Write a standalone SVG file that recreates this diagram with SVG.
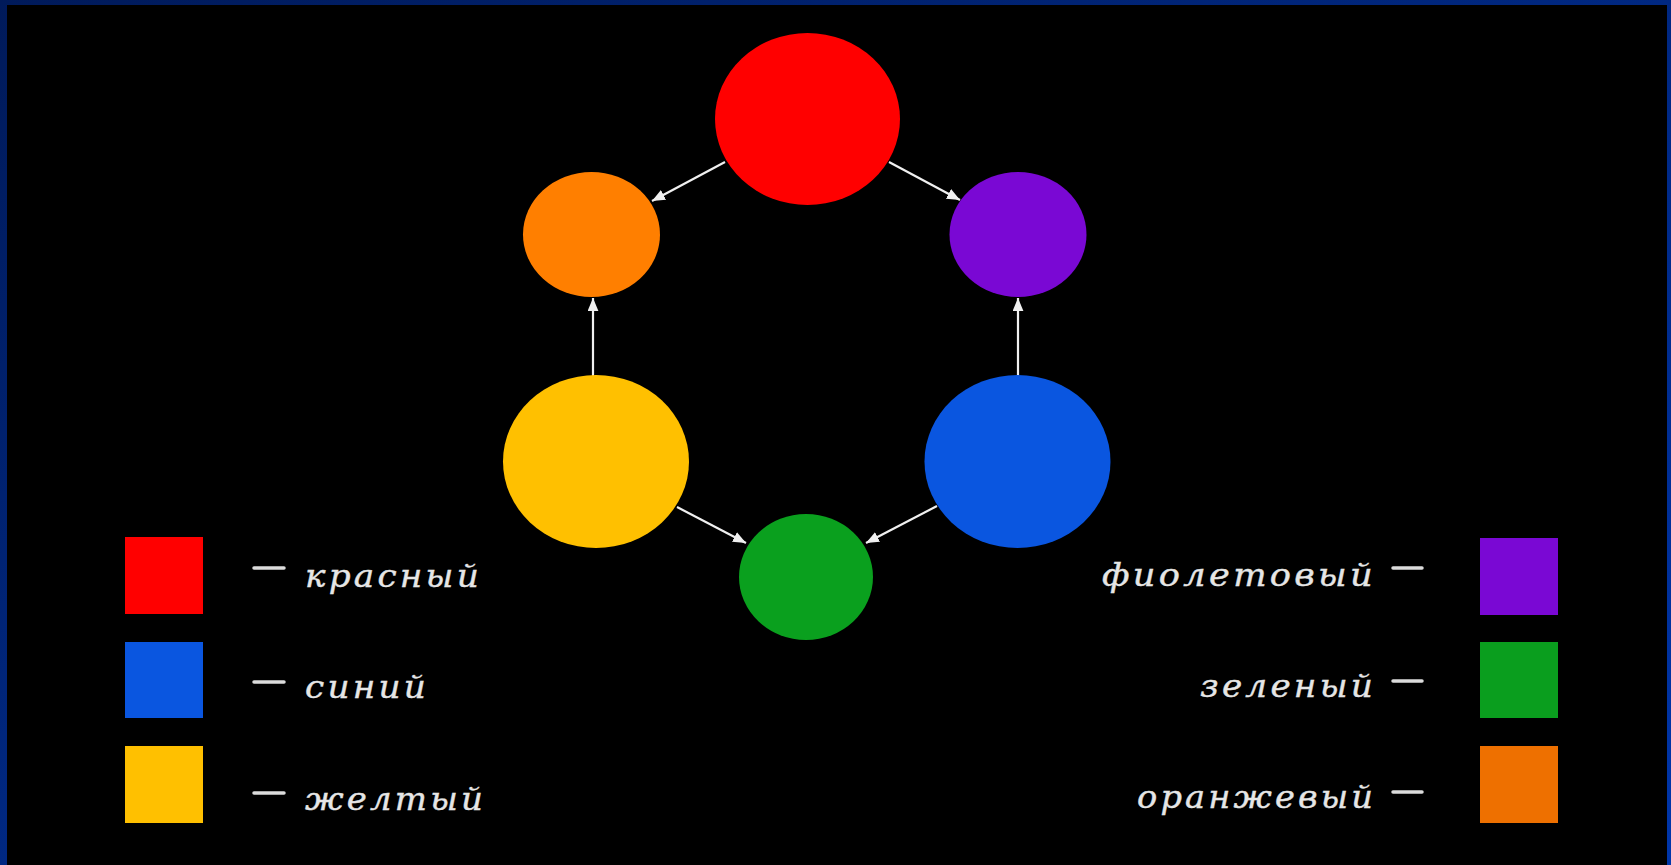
<svg xmlns="http://www.w3.org/2000/svg" width="1671" height="865" viewBox="0 0 1671 865">
  <defs>
    <linearGradient id="frame" x1="0" y1="0" x2="1" y2="1">
      <stop offset="0" stop-color="#001a5a"/>
      <stop offset="1" stop-color="#0036aa"/>
    </linearGradient>
    <marker id="ah" viewBox="0 0 12 10" refX="12" refY="5" markerWidth="13" markerHeight="11" markerUnits="userSpaceOnUse" orient="auto">
      <path d="M0,0 L12,5 L0,10 z" fill="#f0f0f0"/>
    </marker>
    <style>
      .lbl { font-family: "DejaVu Serif", "Liberation Serif", serif; font-style: italic; font-size: 32px; letter-spacing: 3px; fill: #e6e6e6; stroke: #e6e6e6; stroke-width: 0.4; }
      .dash { stroke: #dcdcdc; stroke-width: 3.5; stroke-linecap: round; }
      .conn { stroke: #f0f0f0; stroke-width: 2.2; fill: none; marker-end: url(#ah); }
    </style>
  </defs>

  <rect x="0" y="0" width="1671" height="865" fill="url(#frame)"/>
  <rect x="7" y="5" width="1660" height="860" fill="#000000"/>

  <g id="connectors">
    <line class="conn" x1="725" y1="162" x2="652" y2="201"/>
    <line class="conn" x1="889" y1="162" x2="960" y2="200"/>
    <line class="conn" x1="593" y1="376" x2="593" y2="298"/>
    <line class="conn" x1="1018" y1="376" x2="1018" y2="298"/>
    <line class="conn" x1="677" y1="507" x2="746" y2="543"/>
    <line class="conn" x1="937" y1="506" x2="866" y2="543"/>
  </g>

  <g id="node-red"><ellipse cx="807.5" cy="119" rx="92.5" ry="86" fill="#ff0000"/></g>
  <g id="node-orange"><ellipse cx="591.5" cy="234.5" rx="68.5" ry="62.5" fill="#ff7f00"/></g>
  <g id="node-purple"><ellipse cx="1018" cy="234.5" rx="68.5" ry="62.5" fill="#7a08d4"/></g>
  <g id="node-yellow"><ellipse cx="596" cy="461.5" rx="93" ry="86.5" fill="#ffc000"/></g>
  <g id="node-blue"><ellipse cx="1017.5" cy="461.5" rx="93" ry="86.5" fill="#0a56e0"/></g>
  <g id="node-green"><ellipse cx="806" cy="577" rx="67" ry="63" fill="#0aa01e"/></g>

  <g id="legend-left">
    <rect x="125" y="537" width="78" height="77" fill="#ff0000"/>
    <rect x="125" y="642" width="78" height="76" fill="#0a56e0"/>
    <rect x="125" y="746" width="78" height="77" fill="#ffc000"/>
    <line class="dash" x1="254" y1="568" x2="284" y2="568"/>
    <line class="dash" x1="254" y1="682" x2="284" y2="682"/>
    <line class="dash" x1="254" y1="793" x2="284" y2="793"/>
    <text class="lbl" x="305" y="587" textLength="177" lengthAdjust="spacingAndGlyphs">красный</text>
    <text class="lbl" x="305" y="698" textLength="124" lengthAdjust="spacingAndGlyphs">синий</text>
    <text class="lbl" x="305" y="810" textLength="181" lengthAdjust="spacingAndGlyphs">желтый</text>
  </g>

  <g id="legend-right">
    <rect x="1480" y="538" width="78" height="77" fill="#7a08d4"/>
    <rect x="1480" y="642" width="78" height="76" fill="#0a9e1e"/>
    <rect x="1480" y="746" width="78" height="77" fill="#ee7000"/>
    <line class="dash" x1="1393" y1="568" x2="1422" y2="568"/>
    <line class="dash" x1="1393" y1="681" x2="1422" y2="681"/>
    <line class="dash" x1="1393" y1="792" x2="1422" y2="792"/>
    <text class="lbl" x="1102" y="586" textLength="274" lengthAdjust="spacingAndGlyphs">фиолетовый</text>
    <text class="lbl" x="1200" y="697" textLength="176" lengthAdjust="spacingAndGlyphs">зеленый</text>
    <text class="lbl" x="1137" y="808" textLength="239" lengthAdjust="spacingAndGlyphs">оранжевый</text>
  </g>
</svg>
